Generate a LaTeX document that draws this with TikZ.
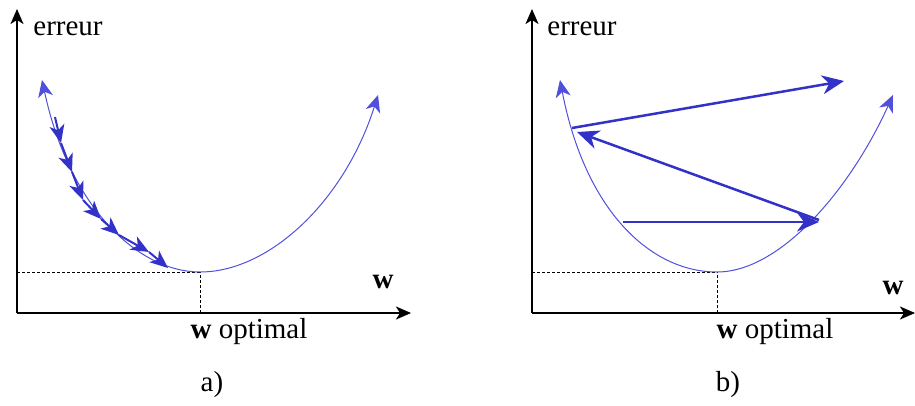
\documentclass[tikz,border=0pt]{standalone}
\usepackage{fontspec}
\setmainfont{Liberation Serif}
\newfontfamily\timesfam{Liberation Serif}
\usetikzlibrary{arrows.meta}
\definecolor{curveblue}{RGB}{80,80,220}
\definecolor{stepblue}{RGB}{50,50,200}
\begin{document}
\begin{tikzpicture}[x=1pt,y=-1pt,
  axis/.style={line width=2pt,-{Stealth[length=15pt,width=13pt,inset=4pt]}},
  guide/.style={line width=0.7pt,dash pattern=on 3pt off 2pt},
  curvestyle/.style={curveblue,line width=1pt,{Stealth[length=17pt,width=15pt,inset=5pt]}-{Stealth[length=17pt,width=15pt,inset=5pt]}},
  gradstep/.style={stepblue,line width=2pt,-{Stealth[length=18pt,width=15pt,inset=5pt]}},
  bigstep/.style={stepblue,line width=2.5pt,-{Stealth[length=22pt,width=19pt,inset=7pt]}},
  lbl/.style={font=\timesfam\fontsize{29}{33}\selectfont,inner sep=0pt}]
\useasboundingbox (0,0) rectangle (915,405);

% ---------- panel a ----------
\coordinate (oa) at (17,313);
\coordinate (ya) at (17,9);
\coordinate (xa) at (411,313);
\draw[axis] (oa) -- (ya);
\draw[axis] (oa) -- (xa);
\coordinate (ma) at (200,272);
\coordinate (mla) at (17,272);
\coordinate (mba) at (200,313);
\draw[guide] (mla) -- (ma);
\draw[guide] (mba) -- (ma);
\coordinate (la) at (42,80);
\coordinate (ra) at (378,95);
\draw[curvestyle] (la) .. controls (70,210) and (140,272) .. (ma)
  .. controls (270,272) and (345,200) .. (ra);
\coordinate (p0) at (55,117);
\coordinate (p1) at (61,143);
\coordinate (p2) at (72,172);
\coordinate (p3) at (83,200);
\coordinate (p4) at (101,219);
\coordinate (p5) at (119,235);
\coordinate (p6) at (149,252);
\coordinate (p7) at (168,268);
\draw[gradstep] (p0) -- (p1);
\draw[gradstep] (p1) -- (p2);
\draw[gradstep] (p2) -- (p3);
\draw[gradstep] (p3) -- (p4);
\draw[gradstep] (p4) -- (p5);
\draw[gradstep] (p5) -- (p6);
\draw[gradstep] (p6) -- (p7);
\node[lbl] (ea) at (68,29) {erreur};
\node[lbl] (wa) at (383,282) {\textbf{w}};
\node[lbl] (woa) at (249,332) {\textbf{w} optimal};
\node[lbl] (capa) at (212,385) {a)};

% ---------- panel b ----------
\coordinate (ob) at (532,313);
\coordinate (yb) at (532,9);
\coordinate (xb) at (915,313);
\draw[axis] (ob) -- (yb);
\draw[axis] (ob) -- (xb);
\coordinate (mb) at (717,272);
\coordinate (mlb) at (532,272);
\coordinate (mbb) at (717,313);
\draw[guide] (mlb) -- (mb);
\draw[guide] (mbb) -- (mb);
\coordinate (lb) at (560,80);
\coordinate (rb) at (893,95);
\draw[curvestyle] (lb) .. controls (585,210) and (650,272) .. (mb)
  .. controls (780,272) and (850,190) .. (rb);
\coordinate (q0) at (623,222);
\coordinate (q1) at (819,222);
\coordinate (q1b) at (819,220);
\coordinate (q2) at (577,132);
\coordinate (q2b) at (572,128);
\coordinate (q3) at (844,81);
\draw[bigstep] (q0) -- (q1);
\draw[bigstep] (q1b) -- (q2);
\draw[bigstep] (q2b) -- (q3);
\node[lbl] (eb) at (582,29) {erreur};
\node[lbl] (wb) at (893,288) {\textbf{w}};
\node[lbl] (wob) at (775,332) {\textbf{w} optimal};
\node[lbl] (capb) at (728,385) {b)};
\end{tikzpicture}
\end{document}
